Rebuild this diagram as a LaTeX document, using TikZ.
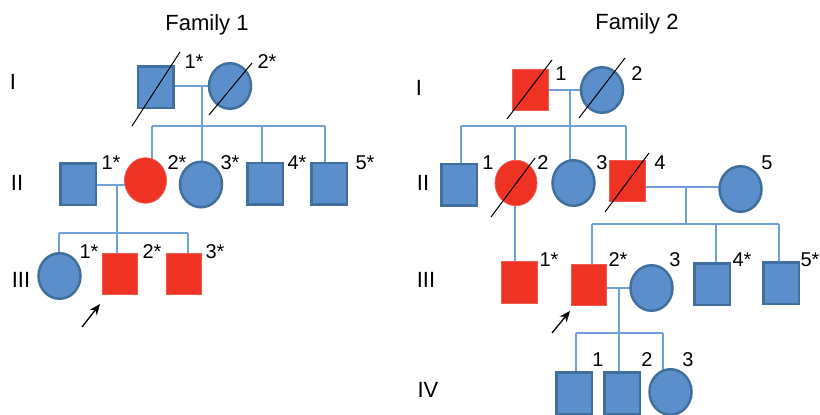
\documentclass[tikz,border=0pt]{standalone}
\usepackage{fontspec}
\setmainfont{Liberation Sans}
\usetikzlibrary{shapes.geometric,backgrounds,arrows.meta}
\definecolor{affred}{HTML}{EE3224}
\definecolor{affedge}{HTML}{F05A4E}
\definecolor{unblue}{HTML}{5B8FCB}
\definecolor{unedge}{HTML}{41709E}
\definecolor{linkblue}{HTML}{70A0D8}
\tikzset{
  male/.style={rectangle, minimum width=35.5pt, minimum height=41.5pt, inner sep=0pt},
  female/.style={ellipse, minimum width=42pt, minimum height=45.5pt, inner sep=0pt},
  healthy/.style={fill=unblue, draw=unedge, line width=2.5pt},
  affected/.style={fill=affred, draw=affedge, line width=0.8pt},
  link/.style={draw=linkblue, line width=1.2pt},
  deceased/.style={draw=black, line width=1pt},
  num/.style={font=\fontsize{20}{20}\selectfont, inner sep=0pt},
  gen/.style={font=\fontsize{22}{22}\selectfont, inner sep=0pt},
  famtitle/.style={font=\fontsize{22}{22}\selectfont, inner sep=0pt},
  proband/.style={draw=black, line width=1.3pt, -{Stealth[length=11pt,width=9pt]}}
}
\begin{document}
\begin{tikzpicture}[x=1pt,y=-1pt]
\useasboundingbox (0,0) rectangle (820,415);

% ---------------- Family 1 ----------------
\node[famtitle] (t1) at (207,25) {Family 1};
\node[gen] (g1i) at (13,82) {I};
\node[gen] (g1ii) at (17,183) {II};
\node[gen] (g1iii) at (21,280) {III};

% generation I
\node[male,healthy] (f1a1) at (155.5,87) {};
\node[female,healthy] (f1a2) at (230,86) {};
\draw[deceased] (132,126) -- (180,52);
\draw[deceased] (209,115) -- (252,63);
\node[num] (l1a1) at (194,62) {1*};
\node[num] (l1a2) at (267,62) {2*};

% generation II
\node[male,healthy] (f1b1) at (78,184) {};
\node[female,affected] (f1b2) at (145.5,180.5) {};
\node[female,healthy] (f1b3) at (201,184.5) {};
\node[male,healthy] (f1b4) at (265,183.5) {};
\node[male,healthy] (f1b5) at (329,183.5) {};
\node[num] (l1b1) at (111,163) {1*};
\node[num] (l1b2) at (177,163) {2*};
\node[num] (l1b3) at (230,163) {3*};
\node[num] (l1b4) at (297,163) {4*};
\node[num] (l1b5) at (365,163) {5*};

% generation III
\node[female,healthy] (f1c1) at (59.5,276) {};
\node[male,affected] (f1c2) at (120,274) {};
\node[male,affected] (f1c3) at (184,274) {};
\node[num] (l1c1) at (89,252) {1*};
\node[num] (l1c2) at (152,252) {2*};
\node[num] (l1c3) at (215,252) {3*};

\coordinate (f1m1) at (202,86);
\coordinate (f1s1) at (202,126);
\coordinate (f1d1) at (152,126);
\coordinate (f1d2) at (262,126);
\coordinate (f1d3) at (325,126);
\coordinate (f1m2) at (117,185);
\coordinate (f1s2) at (117,233);
\coordinate (f1e1) at (59,233);
\coordinate (f1e2) at (188,233);
\coordinate (f1p) at (82,327);
\coordinate (f1q) at (100,304);
\draw[proband] (f1p) -- (f1q);

% ---------------- Family 2 ----------------
\node[famtitle] (t2) at (637,24) {Family 2};
\node[gen] (g2i) at (419,88) {I};
\node[gen] (g2ii) at (423,183) {II};
\node[gen] (g2iii) at (426,280) {III};
\node[gen] (g2iv) at (428,390) {IV};

% generation I
\node[male,affected] (f2a1) at (530.5,90) {};
\node[female,healthy] (f2a2) at (602,90) {};
\draw[deceased] (507,119) -- (552,60);
\draw[deceased] (579,118) -- (625,58);
\node[num] (l2a1) at (561,74) {1};
\node[num] (l2a2) at (637,74) {2};

% generation II
\node[male,healthy] (f2b1) at (459,184.5) {};
\node[female,affected] (f2b2) at (516,183) {};
\node[female,healthy] (f2b3) at (573.5,183) {};
\node[male,affected] (f2b4) at (627.5,181) {};
\node[female,healthy] (f2b5) at (740.5,189) {};
\draw[deceased] (491,217) -- (535,158);
\draw[deceased] (605,212) -- (649,153);
\node[num] (l2b1) at (488,163) {1};
\node[num] (l2b2) at (543,163) {2};
\node[num] (l2b3) at (602,163) {3};
\node[num] (l2b4) at (660,163) {4};
\node[num] (l2b5) at (767,163) {5};

% generation III
\node[male,affected] (f2c1) at (519.5,282.5) {};
\node[male,affected] (f2c2) at (589,285) {};
\node[female,healthy] (f2c3) at (651.5,288) {};
\node[male,healthy] (f2c4) at (712,284) {};
\node[male,healthy] (f2c5) at (781,283) {};
\node[num] (l2c1) at (549,260) {1*};
\node[num] (l2c2) at (618,260) {2*};
\node[num] (l2c3) at (675,260) {3};
\node[num] (l2c4) at (742,260) {4*};
\node[num] (l2c5) at (810,260) {5*};

% generation IV
\node[male,healthy] (f2d1) at (574,393) {};
\node[male,healthy] (f2d2) at (622,393) {};
\node[female,healthy] (f2d3) at (670.5,392) {};
\node[num] (l2d1) at (598,360) {1};
\node[num] (l2d2) at (647,360) {2};
\node[num] (l2d3) at (688,360) {3};

\coordinate (f2m1) at (570,90);
\coordinate (f2s1) at (570,126);
\coordinate (f2d1x) at (461,126);
\coordinate (f2d2x) at (515,126);
\coordinate (f2d4x) at (626,126);
\coordinate (f2m2) at (686,187);
\coordinate (f2s2) at (686,224);
\coordinate (f2e2) at (592,224);
\coordinate (f2e4) at (716,224);
\coordinate (f2e5) at (779,224);
\coordinate (f2m3) at (619,288);
\coordinate (f2s3) at (619,333);
\coordinate (f2k1) at (576,333);
\coordinate (f2k3) at (663,333);
\coordinate (f2p) at (552,333);
\coordinate (f2q) at (570,311);
\draw[proband] (f2p) -- (f2q);

% ---------------- connecting lines ----------------
\begin{scope}[on background layer]
  % family 1
  \draw[link] (f1a1 |- f1m1) -- (f1a2 |- f1m1);
  \draw[link] (f1m1) -- (f1s1);
  \draw[link] (f1d1) -- (f1d3);
  \draw[link] (f1d1) -- (f1d1 |- f1b2.center);
  \draw[link] (f1s1) -- (f1s1 |- f1b3.center);
  \draw[link] (f1d2) -- (f1d2 |- f1b4.center);
  \draw[link] (f1d3) -- (f1d3 |- f1b5.center);
  \draw[link] (f1b1 |- f1m2) -- (f1b2 |- f1m2);
  \draw[link] (f1m2) -- (f1s2);
  \draw[link] (f1e1) -- (f1e2);
  \draw[link] (f1e1) -- (f1e1 |- f1c1.center);
  \draw[link] (f1s2) -- (f1s2 |- f1c2.center);
  \draw[link] (f1e2) -- (f1e2 |- f1c3.center);
  % family 2
  \draw[link] (f2a1 |- f2m1) -- (f2a2 |- f2m1);
  \draw[link] (f2m1) -- (f2s1);
  \draw[link] (f2d1x) -- (f2d4x);
  \draw[link] (f2d1x) -- (f2d1x |- f2b1.center);
  \draw[link] (f2d2x) -- (f2d2x |- f2b2.center);
  \draw[link] (f2s1) -- (f2s1 |- f2b3.center);
  \draw[link] (f2d4x) -- (f2d4x |- f2b4.center);
  \draw[link] (f2d2x |- f2b2.center) -- (f2d2x |- f2c1.center);
  \draw[link] (f2b4 |- f2m2) -- (f2b5 |- f2m2);
  \draw[link] (f2m2) -- (f2s2);
  \draw[link] (f2e2) -- (f2e5);
  \draw[link] (f2e2) -- (f2e2 |- f2c2.center);
  \draw[link] (f2e4) -- (f2e4 |- f2c4.center);
  \draw[link] (f2e5) -- (f2e5 |- f2c5.center);
  \draw[link] (f2c2 |- f2m3) -- (f2c3 |- f2m3);
  \draw[link] (f2m3) -- (f2s3);
  \draw[link] (f2k1) -- (f2k3);
  \draw[link] (f2k1) -- (f2k1 |- f2d1.center);
  \draw[link] (f2s3) -- (f2s3 |- f2d2.center);
  \draw[link] (f2k3) -- (f2k3 |- f2d3.center);
\end{scope}
\end{tikzpicture}
\end{document}
